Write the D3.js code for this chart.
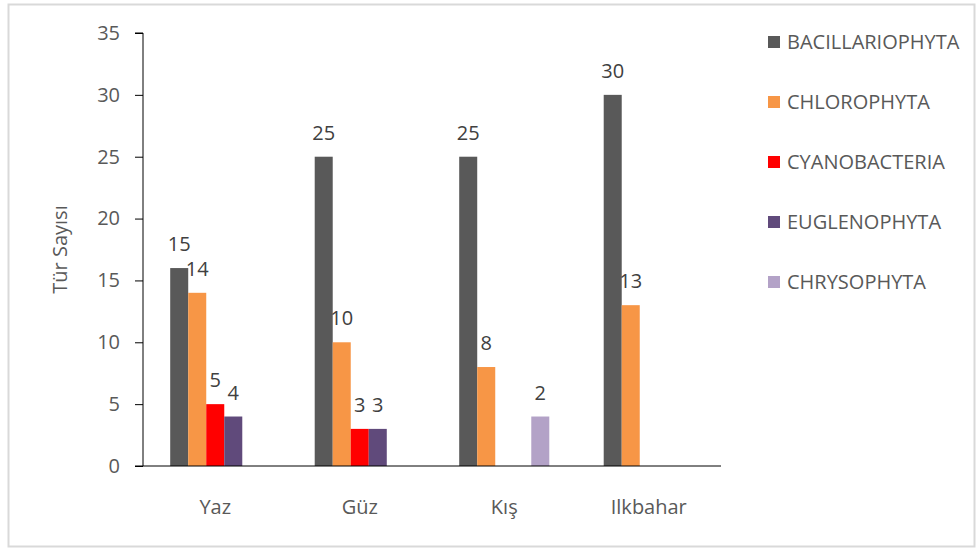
<!DOCTYPE html>
<html>
<head>
<meta charset="utf-8">
<script src="https://cdn.jsdelivr.net/npm/d3@7"></script>
<style>
  body { margin: 0; background: #fff; }
  svg text { font-family: "Open Sans", sans-serif; fill: #595959; }
</style>
</head>
<body>
<svg id="chart" width="977" height="550"></svg>
<script>
var seasons = ["Yaz", "Güz", "Kış", "Ilkbahar"]
var groups = ["BACILLARIOPHYTA", "CHLOROPHYTA", "CYANOBACTERIA", "EUGLENOPHYTA", "CHRYSOPHYTA"]
var colors = ["#595959", "#f79646", "#ff0000", "#604a7b", "#b3a2c7"]

// bar heights as drawn (per group, per season)
var bacillariophyta = [16, 25, 25, 30]
var chlorophyta = [14, 10, 8, 13]
var cyanobacteria = [5, 3, null, null]
var euglenophyta = [4, 3, null, null]
var chrysophyta = [null, null, 4, null]

// the numbers written above the bars
var labelsBac = [15, 25, 25, 30]
var labelsChl = [14, 10, 8, 13]
var labelsCya = [5, 3, null, null]
var labelsEug = [4, 3, null, null]
var labelsChr = [null, null, 2, null]

var yTicks = [0, 5, 10, 15, 20, 25, 30, 35]

var values = [bacillariophyta, chlorophyta, cyanobacteria, euglenophyta, chrysophyta]
var labels = [labelsBac, labelsChl, labelsCya, labelsEug, labelsChr]

var fontSize = "20px"

var margin = { top: 33, left: 143, right: 256, bottom: 84 },
    width = 977 - margin.left - margin.right,
    height = 550 - margin.top - margin.bottom

var svg = d3.select("#chart")

// outer frame
svg.append("rect")
    .attr("x", 8.5).attr("y", 4.5)
    .attr("width", 966).attr("height", 542)
    .attr("fill", "#fff")
    .attr("stroke", "#d9d9d9")
    .attr("stroke-width", 2)

var g = svg.append("g").attr("transform", "translate(" + margin.left + "," + margin.top + ")")

var x0 = d3.scaleBand().domain(seasons).range([0, width]).padding(0)
var x1 = d3.scaleBand().domain(groups).range([0, x0.bandwidth()]).paddingOuter(1.51).paddingInner(0)
var y = d3.scaleLinear().domain([0, 35]).range([height, 0])

// rows of data for the bars
var rows = []
values.forEach(function(series, i) {
    series.forEach(function(v, j) {
        if (v != null) rows.push({ group: groups[i], season: seasons[j], value: v, label: labels[i][j], color: colors[i] })
    })
})

g.selectAll("rect.bar")
    .data(rows)
    .enter()
    .append("rect")
    .attr("class", "bar")
    .attr("x", d => x0(d.season) + x1(d.group))
    .attr("y", d => y(d.value))
    .attr("width", x1.bandwidth())
    .attr("height", d => height - y(d.value))
    .style("fill", d => d.color)

g.selectAll("text.val")
    .data(rows.filter(d => d.label != null))
    .enter()
    .append("text")
    .attr("class", "val")
    .attr("x", d => x0(d.season) + x1(d.group) + x1.bandwidth() / 2)
    .attr("y", d => y(d.value) - 17)
    .attr("text-anchor", "middle")
    .style("font-size", fontSize)
    .style("fill", "#404040")
    .text(d => d.label)

// y axis
var yAxis = g.append("g")
    .call(d3.axisLeft(y).tickValues(yTicks).tickSize(8).tickPadding(15))
yAxis.selectAll("text").style("font-size", fontSize).style("font-family", "'Open Sans', sans-serif").attr("fill", "#595959")
yAxis.selectAll("line").attr("stroke", "#000")
yAxis.select(".domain").attr("stroke", "#000").attr("d", "M0," + height + "V0H-8")

// x axis
var xAxis = g.append("g")
    .attr("transform", "translate(0," + height + ")")
    .call(d3.axisBottom(x0).tickSize(0).tickPadding(34))
xAxis.selectAll("text").style("font-size", fontSize).style("font-family", "'Open Sans', sans-serif").attr("fill", "#595959")
xAxis.select(".domain").attr("stroke", "#000").attr("d", "M-8,0H" + width)

// y title
svg.append("text")
    .attr("transform", "translate(67," + (margin.top + height / 2) + ") rotate(-90)")
    .attr("text-anchor", "middle")
    .style("font-size", fontSize)
    .text("Tür Sayısı")

// legend
var legend = svg.append("g").attr("transform", "translate(768,42)")
groups.forEach(function(name, i) {
    legend.append("rect").attr("x", 0).attr("y", i * 60 - 6).attr("width", 12).attr("height", 12).style("fill", colors[i])
    legend.append("text").attr("x", 19).attr("y", i * 60).attr("dy", "0.35em")
        .style("font-size", fontSize).text(name)
})
</script>
</body>
</html>
